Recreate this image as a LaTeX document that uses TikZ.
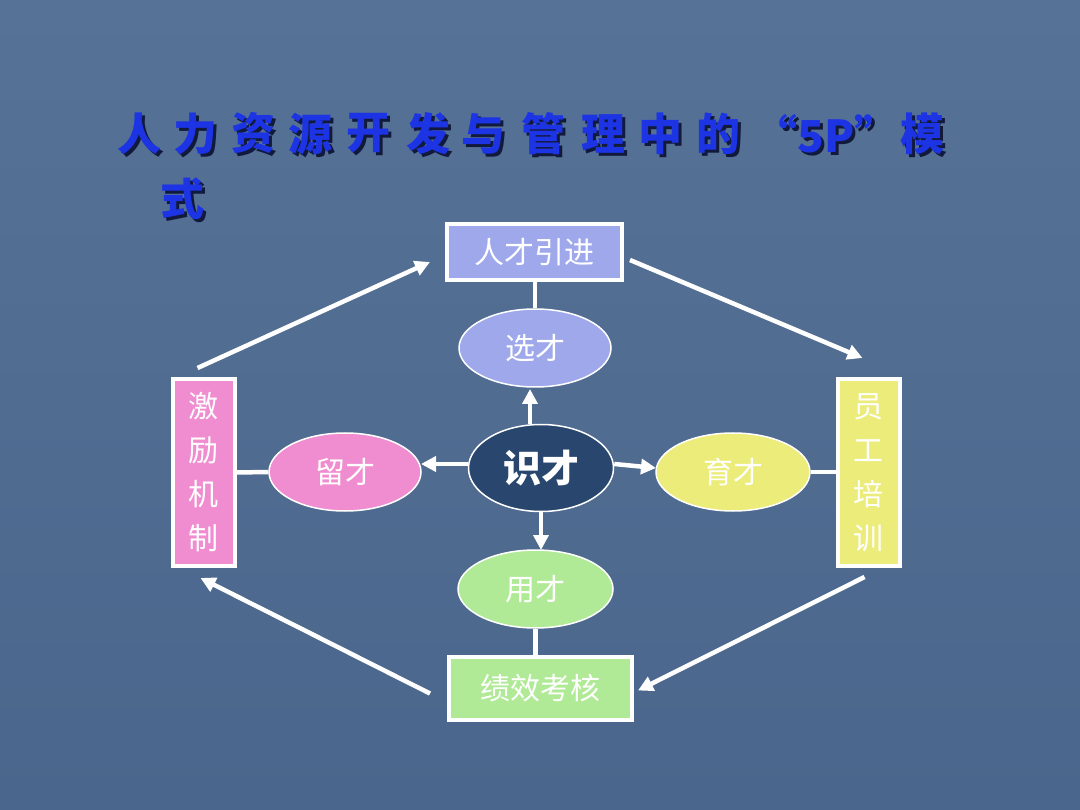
\documentclass[tikz,border=0pt]{standalone}
\usepackage{fontspec}
\newfontfamily\cjk{Noto Sans CJK SC}
\newfontfamily\cjkb{Noto Sans CJK SC Black}
\usetikzlibrary{shapes.geometric,arrows.meta}
\definecolor{bgtop}{RGB}{86,114,150}
\definecolor{bgbot}{RGB}{74,102,140}
\definecolor{titleblue}{RGB}{28,52,228}
\definecolor{titleshadow}{RGB}{18,26,60}
\definecolor{lav}{RGB}{158,168,234}
\definecolor{pinkc}{RGB}{240,140,208}
\definecolor{yelc}{RGB}{236,236,122}
\definecolor{grnc}{RGB}{176,234,150}
\definecolor{navy}{RGB}{40,70,110}
\newcommand{\shadowed}[1]{\makebox[0pt][l]{\hspace{3pt}\raisebox{-3pt}{\color{titleshadow}#1}}#1}
\tikzset{
  ttl/.style={font=\cjkb\fontsize{44}{44}\selectfont, inner sep=0pt, text=titleblue},
  box/.style={draw=white, line width=4pt, inner sep=0pt, text=white, font=\cjk\fontsize{30}{30}\selectfont},
  vbox/.style={box, minimum width=62pt, minimum height=187pt, align=center, font=\cjk\fontsize{30}{44}\selectfont},
  oval/.style={ellipse, draw=white, line width=1.5pt, inner sep=0pt, text=white, minimum width=152pt, minimum height=78pt, font=\cjk\fontsize{30}{30}\selectfont},
  link/.style={draw=white, line width=4.5pt},
  arr/.style={draw=white, line width=4.5pt, -{Triangle[length=15pt,width=15pt]}}
}
\begin{document}
\begin{tikzpicture}[x=1pt,y=-1pt]
\shade[top color=bgtop, bottom color=bgbot] (0,0) rectangle (1080,810);
\useasboundingbox (0,0) rectangle (1080,810);
% title
\foreach \c/\x [count=\i] in {人/139,力/195,资/253,源/310,开/368,发/428,与/483,管/543,理/603,中/660,的/718,“5P”/826,模/922}{
  \node[ttl] (t\i) at (\x,135) {\shadowed{\c}};
}
\node[ttl] (t14) at (182,200) {\shadowed{式}};
% nodes
\node[box, fill=lav, minimum width=175pt, minimum height=56pt] (rc) at (534.5,252) {人才引进};
\node[oval, fill=lav] (xc) at (535,348) {选才};
\node[oval, fill=navy, minimum width=145pt, minimum height=87pt, font=\cjk\bfseries\fontsize{38}{38}\selectfont] (sc) at (541,468) {识才};
\node[oval, fill=pinkc] (lc) at (345,472) {留才};
\node[oval, fill=yelc, minimum width=154pt] (yc) at (733,472) {育才};
\node[oval, fill=grnc, minimum width=155pt] (uc) at (535.5,589) {用才};
\node[box, fill=grnc, minimum width=183pt, minimum height=63pt] (jx) at (540.5,688.5) {绩效考核};
\node[vbox, fill=pinkc] (jl) at (203.5,472.5) {激\\励\\机\\制};
\node[vbox, fill=yelc] (yg) at (868.5,472.5) {员\\工\\培\\训};
% links
\draw[link] (rc.south -| xc.north) -- (xc.north);
\draw[link] (jl.east) -- (lc.west);
\draw[link] (yc.east) -- (yc.east -| yg.west);
\draw[link] (uc.south) -- (uc.south |- jx.north);
% inner arrows
\draw[arr] (sc.north -| 530,0) -- (530,389) coordinate (xa);
\draw[arr] (sc.west) ++(0,-4) -- (421,464) coordinate (la);
\draw[arr] (sc.east) ++(0,-4) -- (656,468) coordinate (ya);
\draw[arr] (sc.south) -- (sc.south |- 0,550) coordinate (ua);
% outer arrows
\draw[arr] ([shift={(-6,-9)}]jl.north) -- ([shift={(-15,10)}]rc.west);
\draw[arr] ([shift={(6,8)}]rc.east) -- ([shift={(-6,-19)}]yg.north);
\draw[arr] ([shift={(-4,9)}]yg.south) -- ([shift={(4,2)}]jx.east);
\draw[arr] ([shift={(-17,5)}]jx.west) -- ([shift={(-3,10)}]jl.south);
\end{tikzpicture}
\end{document}
